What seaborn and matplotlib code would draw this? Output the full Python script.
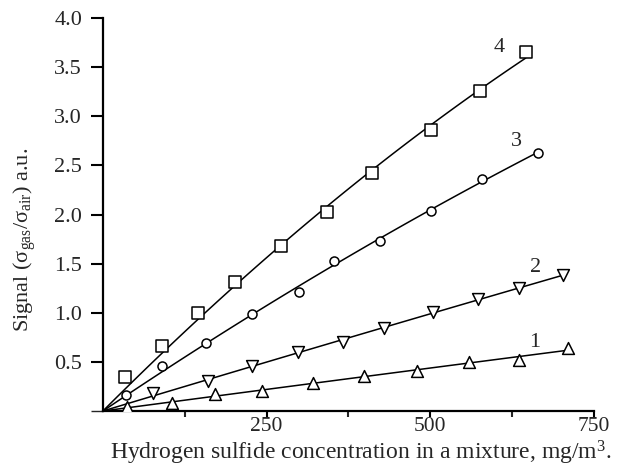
"""
Signal vs H2S concentration
"""
import matplotlib
import matplotlib.pyplot as plt
import numpy as np
import pandas as pd
import seaborn as sns

matplotlib.use("Agg")

# curve 1 (up triangles)
conc_1 = [37, 105, 171, 243, 321, 399, 480, 559, 635, 710]
signal_1 = [0.04, 0.08, 0.17, 0.20, 0.29, 0.36, 0.41, 0.50, 0.52, 0.64]
# curve 2 (down triangles)
conc_2 = [76, 160, 228, 298, 367, 429, 504, 573, 635, 703]
signal_2 = [0.18, 0.31, 0.46, 0.60, 0.70, 0.85, 1.01, 1.14, 1.25, 1.38]
# curve 3 (circles)
conc_3 = [35, 90, 157, 228, 299, 353, 423, 501, 579, 664]
signal_3 = [0.16, 0.46, 0.69, 0.99, 1.21, 1.53, 1.73, 2.04, 2.36, 2.63]
# curve 4 (squares)
conc_4 = [34, 90, 145, 202, 272, 342, 411, 501, 576, 646]
signal_4 = [0.35, 0.66, 1.00, 1.31, 1.68, 2.03, 2.42, 2.86, 3.26, 3.66]

curve_names = ["1", "2", "3", "4"]
y_ticks = [0.5, 1.0, 1.5, 2.0, 2.5, 3.0, 3.5, 4.0]
x_ticks = [250, 500, 750]

sns.set_theme(style="ticks")
plt.rcParams["font.family"] = ["Liberation Serif", "DejaVu Serif"]
plt.rcParams["mathtext.fontset"] = "custom"
plt.rcParams["mathtext.rm"] = "Liberation Serif"
plt.rcParams["mathtext.it"] = "Liberation Serif:italic"

fig = plt.figure(figsize=(6.2, 4.66), dpi=100)
ax = fig.add_axes([0.166, 0.118, 0.792, 0.843])

series = [
    (conc_1, signal_1, "^", 8.5),
    (conc_2, signal_2, "v", 8.5),
    (conc_3, signal_3, "o", 6.5),
    (conc_4, signal_4, "s", 9.0),
]
label_offsets = [(-24, 4), (-20, 6), (-15, 8), (-19, 3)]

for (xs, ys, marker, ms), name, off in zip(series, curve_names, label_offsets):
    # fit y = a*x + b*x^2 (passes through the origin)
    xa = np.array(xs, dtype=float)
    A = np.column_stack([xa, xa ** 2])
    coef, *_ = np.linalg.lstsq(A, np.array(ys), rcond=None)
    xf = np.linspace(0, xs[-1], 100)
    fit = pd.DataFrame({"x": xf, "y": coef[0] * xf + coef[1] * xf ** 2})
    sns.lineplot(data=fit, x="x", y="y", ax=ax, color="black", lw=1.1)

    df = pd.DataFrame({"x": xs, "y": ys})
    sns.scatterplot(data=df, x="x", y="y", ax=ax, marker=marker,
                    s=ms ** 2, facecolor="white", edgecolor="black",
                    linewidth=1.1, zorder=3)
    ax.annotate(name, (xs[-1], ys[-1]), xytext=off,
                textcoords="offset points", fontsize=16, ha="center",
                va="center")

ax.set_xlim(0, 750)
ax.set_ylim(0, 4.0)
ax.set_xticks(x_ticks)
ax.set_xticks([125, 375, 625], minor=True)
ax.set_yticks(y_ticks)
ax.set_yticklabels([f"{v:.1f}" for v in y_ticks])
ax.set_yticks([0], minor=True)

ax.tick_params(axis="both", which="major", labelsize=16, direction="out",
               width=1.5, color="black")
ax.tick_params(axis="y", which="both", length=9, pad=6)
ax.tick_params(axis="x", which="major", length=4, pad=0, labelsize=15.5)
ax.tick_params(axis="x", which="minor", length=4, width=1.5)

for side in ["top", "right"]:
    ax.spines[side].set_visible(False)
for side in ["left", "bottom"]:
    ax.spines[side].set_linewidth(1.6)
    ax.spines[side].set_color("black")

ax.set_xlabel("Hydrogen sulfide concentration in a mixture, mg/m$^3$.",
              fontsize=17)
ax.set_ylabel(r"Signal ($\mathrm{\sigma_{gas}/\sigma_{air}}$) a.u.",
              fontsize=16)
ax.xaxis.set_label_coords(0.526, -0.071)
ax.yaxis.set_label_coords(-0.132, 0.435)

fig.savefig("out.png", dpi=100)
